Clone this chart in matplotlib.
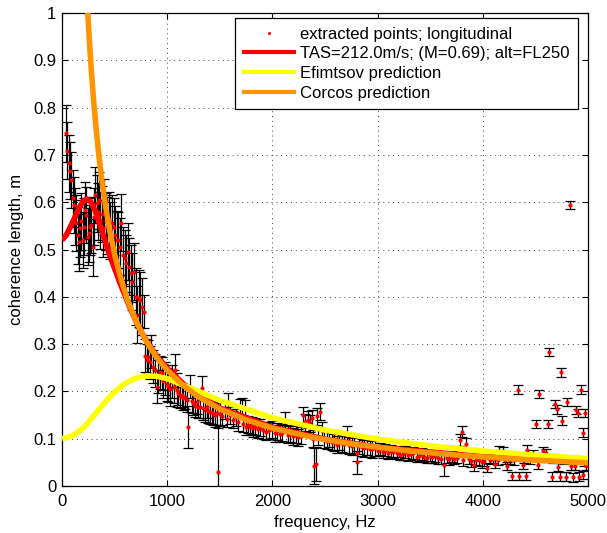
import matplotlib
matplotlib.use("Agg")
import matplotlib.pyplot as plt
from matplotlib.lines import Line2D

plt.rcParams['font.family'] = ['Liberation Sans', 'DejaVu Sans']
plt.rcParams['font.size'] = 12

# ---- measured coherence lengths (frequency Hz, length m), grouped by band ----
freq_a = [40, 52, 64, 76, 88, 100, 112, 124, 136, 148, 160, 172, 184, 196, 208, 220, 232, 244,
          256, 268, 280, 292, 304, 316, 328, 340, 352, 364, 376, 388, 400, 415, 430, 445, 460,
          475, 490, 505, 520, 535, 550, 565, 580, 595, 610, 625, 640, 655, 670, 685, 700, 715,
          730, 745, 760]
len_a = [0.746, 0.709, 0.682, 0.667, 0.647, 0.608, 0.594, 0.569, 0.556, 0.530, 0.515, 0.545,
         0.560, 0.520, 0.548, 0.583, 0.573, 0.527, 0.534, 0.548, 0.552, 0.505, 0.569, 0.615,
         0.598, 0.580, 0.604, 0.562, 0.575, 0.545, 0.590, 0.560, 0.550, 0.562, 0.540, 0.555,
         0.548, 0.531, 0.521, 0.520, 0.506, 0.557, 0.488, 0.482, 0.471, 0.495, 0.464, 0.450,
         0.432, 0.453, 0.400, 0.362, 0.397, 0.393, 0.379]
err_a = 0.06

freq_b = [775, 790, 805, 820, 835, 850, 868, 884, 900, 916, 932, 948, 964, 980, 996, 1012,
          1028, 1044, 1060, 1074, 1090]
len_b = [0.368, 0.275, 0.266, 0.273, 0.262, 0.285, 0.252, 0.245, 0.210, 0.231, 0.240, 0.238,
         0.222, 0.228, 0.215, 0.212, 0.205, 0.220, 0.210, 0.245, 0.203]
err_b = 0.035

freq_c = [1106, 1122, 1138, 1154, 1170, 1185, 1217, 1233, 1248, 1264, 1280, 1296, 1312, 1328,
          1344, 1360, 1376, 1392, 1407, 1423, 1439, 1454, 1470, 1502]
len_c = [0.196, 0.190, 0.192, 0.185, 0.188, 0.182, 0.210, 0.180, 0.175, 0.170, 0.178, 0.168,
         0.168, 0.207, 0.165, 0.160, 0.168, 0.158, 0.157, 0.157, 0.153, 0.150, 0.155, 0.152]
err_c = 0.025

freq_d = [1520, 1545, 1570, 1581, 1600, 1625, 1650, 1675, 1692, 1710, 1725, 1740, 1752, 1770,
          1787, 1805, 1816, 1835, 1860, 1885, 1914, 1943, 1970, 1995, 2020, 2045, 2070, 2095,
          2120, 2145, 2170, 2195, 2220, 2245, 2270, 2293, 2310, 2341, 2357, 2373, 2390, 2421,
          2437, 2452, 2468, 2490, 2515, 2540, 2565, 2590, 2611, 2635, 2660, 2685, 2706, 2730,
          2755, 2780, 2801, 2825, 2850, 2875, 2900, 2925, 2950, 2975]
len_d = [0.148, 0.160, 0.142, 0.178, 0.150, 0.140, 0.145, 0.135, 0.166, 0.168, 0.132, 0.164,
         0.125, 0.130, 0.125, 0.128, 0.122, 0.125, 0.120, 0.123, 0.118, 0.115, 0.118, 0.120,
         0.112, 0.116, 0.110, 0.113, 0.138, 0.108, 0.112, 0.105, 0.108, 0.103, 0.106, 0.150,
         0.135, 0.140, 0.133, 0.143, 0.100, 0.147, 0.104, 0.157, 0.118, 0.098, 0.096, 0.100,
         0.094, 0.092, 0.087, 0.095, 0.090, 0.088, 0.108, 0.086, 0.084, 0.088, 0.070, 0.085,
         0.082, 0.080, 0.083, 0.079, 0.078, 0.081]
err_d = 0.018

freq_e = [3000, 3025, 3050, 3075, 3100, 3125, 3150, 3181, 3200, 3213, 3240, 3265, 3290, 3315,
          3340, 3372, 3395, 3420, 3445, 3470, 3495, 3520, 3545, 3570, 3600, 3655, 3680, 3705,
          3730, 3755, 3783, 3800, 3815, 3840, 3865, 3890, 3916, 3940, 3965, 3990]
len_e = [0.075, 0.078, 0.072, 0.076, 0.070, 0.074, 0.071, 0.069, 0.073, 0.066, 0.068, 0.072,
         0.065, 0.067, 0.070, 0.062, 0.064, 0.068, 0.062, 0.060, 0.065, 0.061, 0.063, 0.059,
         0.058, 0.060, 0.057, 0.062, 0.058, 0.060, 0.097, 0.115, 0.055, 0.089, 0.058, 0.052,
         0.044, 0.056, 0.054, 0.050]
err_e = 0.012

freq_f = [4010, 4043, 4070, 4095, 4116, 4140, 4157, 4189, 4210, 4227, 4259, 4275, 4300, 4338,
          4347, 4379, 4395, 4411, 4417, 4450, 4480, 4506, 4528, 4538, 4555, 4575, 4601, 4623,
          4629, 4655, 4670, 4686, 4702, 4718, 4734, 4740, 4750, 4770, 4791, 4797, 4829, 4835,
          4854, 4876, 4886, 4908, 4915, 4931, 4949, 4955, 4965, 4972, 4985]
len_f = [0.052, 0.039, 0.056, 0.058, 0.046, 0.054, 0.075, 0.073, 0.056, 0.042, 0.055, 0.021,
         0.054, 0.204, 0.021, 0.044, 0.057, 0.021, 0.077, 0.055, 0.068, 0.131, 0.044, 0.194,
         0.060, 0.073, 0.070, 0.131, 0.283, 0.020, 0.058, 0.173, 0.162, 0.040, 0.020, 0.240,
         0.138, 0.055, 0.020, 0.178, 0.594, 0.042, 0.018, 0.042, 0.161, 0.154, 0.020, 0.204,
         0.113, 0.023, 0.052, 0.154, 0.042]
err_f = 0.009

# points with individually wide uncertainty
freq_w = [1201, 1486, 2400, 2410, 2801, 3631]
len_w = [0.125, 0.030, 0.042, 0.046, 0.050, 0.044]
err_w = [0.045, 0.092, 0.038, 0.036, 0.025, 0.022]

# ---- model curves ----
tas_f = [0, 40, 80, 120, 160, 200, 235, 270, 310, 350, 400, 450, 500, 550, 600, 650, 700, 760,
         830, 900, 1000, 1200, 1500, 2000, 2500, 3000, 4000, 5000]
tas_l = [0.520, 0.530, 0.548, 0.567, 0.587, 0.602, 0.607, 0.602, 0.585, 0.560, 0.525, 0.490,
         0.460, 0.430, 0.402, 0.375, 0.350, 0.323, 0.297, 0.275, 0.249, 0.206, 0.165, 0.124,
         0.099, 0.082, 0.062, 0.050]

efim_f = [0, 100, 200, 300, 400, 500, 600, 700, 800, 900, 1000, 1200, 1500, 2000, 2500, 3000,
          3500, 4000, 4500, 5000]
efim_l = [0.100, 0.106, 0.122, 0.148, 0.175, 0.199, 0.217, 0.228, 0.233, 0.232, 0.227, 0.209,
          0.181, 0.144, 0.118, 0.099, 0.085, 0.074, 0.065, 0.058]

corc_f = [235, 245, 255, 265, 280, 300, 325, 350, 380, 420, 460, 500, 560, 620, 700, 800, 900,
          1000, 1150, 1300, 1500, 1750, 2000, 2400, 2800, 3300, 3800, 4400, 5000]
corc_l = [1.043, 1.000, 0.961, 0.925, 0.875, 0.817, 0.754, 0.700, 0.645, 0.583, 0.533, 0.490,
          0.438, 0.395, 0.350, 0.306, 0.272, 0.245, 0.213, 0.188, 0.163, 0.140, 0.1225, 0.102,
          0.0875, 0.0742, 0.0645, 0.0557, 0.049]

fig = plt.figure(figsize=(6.07, 5.33), dpi=100)
ax = fig.add_axes([62 / 607, 1 - 486 / 533, 526 / 607, 473 / 533])

eb_kw = dict(fmt='none', ecolor='black', elinewidth=0.9, capsize=3.8, capthick=0.9, zorder=2)
groups = [(freq_a, len_a, err_a), (freq_b, len_b, err_b), (freq_c, len_c, err_c),
          (freq_d, len_d, err_d), (freq_e, len_e, err_e), (freq_f, len_f, err_f),
          (freq_w, len_w, err_w)]
for fx, ly, er in groups:
    ax.errorbar(fx, ly, yerr=er, **eb_kw)
for fx, ly, er in groups:
    ax.plot(fx, ly, 'o', color='red', ms=3, mec='none', zorder=3)

lw = 4.0
ax.plot(tas_f, tas_l, color='#ff0000', lw=lw, solid_capstyle='butt', zorder=4)
ax.plot(efim_f, efim_l, color='#ffff00', lw=lw, solid_capstyle='butt', zorder=5)
ax.plot(corc_f, corc_l, color='#ff9400', lw=lw, solid_capstyle='butt', zorder=6)

ax.set_xlim(0, 5000)
ax.set_ylim(0, 1)
ax.set_xticks([0, 1000, 2000, 3000, 4000, 5000])
ax.set_yticks([0, 0.1, 0.2, 0.3, 0.4, 0.5, 0.6, 0.7, 0.8, 0.9, 1])
ax.set_yticklabels(['0', '0.1', '0.2', '0.3', '0.4', '0.5', '0.6', '0.7', '0.8', '0.9', '1'])
ax.tick_params(direction='in', top=True, right=True, length=4, width=0.8, labelsize=12)
ax.tick_params(axis='x', pad=6)
ax.tick_params(axis='y', pad=4)
ax.grid(True, color='0.25', linestyle=(0, (1, 4)), linewidth=0.7)
for s in ax.spines.values():
    s.set_linewidth(0.9)

ax.set_xlabel('frequency, Hz', fontsize=12, labelpad=4)
ax.set_ylabel('coherence length, m', fontsize=12, labelpad=7)

handles = [
    Line2D([], [], linestyle='none', marker='o', ms=2.2, color='red', mec='none'),
    Line2D([], [], color='#ff0000', lw=3),
    Line2D([], [], color='#ffff00', lw=3),
    Line2D([], [], color='#ff9400', lw=3),
]
labels = ['extracted points; longitudinal', 'TAS=212.0m/s; (M=0.69); alt=FL250',
          'Efimtsov prediction', 'Corcos prediction']
leg = ax.legend(handles, labels, loc='upper right', bbox_to_anchor=(0.981, 0.989),
                borderaxespad=0, fancybox=False, framealpha=1, edgecolor='black',
                handlelength=3.0, handletextpad=0.4, labelspacing=0.28, borderpad=0.5,
                fontsize=12)
leg.get_frame().set_linewidth(0.9)
leg.set_zorder(10)

fig.savefig('out.png', dpi=100)
